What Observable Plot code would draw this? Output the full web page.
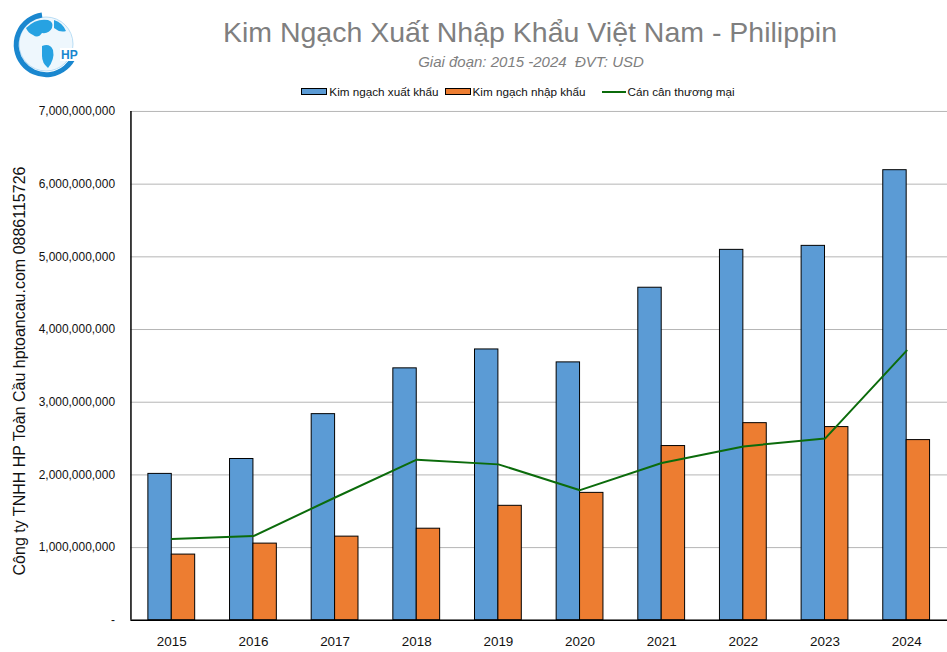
<!DOCTYPE html>
<html>
<head>
<meta charset="utf-8">
<script src="https://cdn.jsdelivr.net/npm/d3@7"></script>
<script src="https://cdn.jsdelivr.net/npm/@observablehq/plot@0.6"></script>
<style>
  html, body { margin: 0; padding: 0; background: #fff; }
  body { width: 947px; height: 652px; overflow: hidden; position: relative; font-family: "Liberation Sans", Arial, sans-serif; }
  #title { position: absolute; left: 0; width: 1060px; top: 16px; text-align: center; font-size: 28.5px; color: #7f7f7f; white-space: nowrap; }
  #subtitle { position: absolute; left: 0; width: 1062px; top: 53px; text-align: center; font-size: 15px; font-style: italic; color: #7f7f7f; white-space: nowrap; }
  #legend { position: absolute; left: 0; width: 1042px; top: 85px; display: flex; justify-content: center; align-items: center; font-size: 11.7px; color: #111; white-space: nowrap; }
  .sw { display: inline-block; width: 24px; height: 5px; border: 1px solid #000; margin-right: 2px; }
  .ln { display: inline-block; width: 24px; height: 2px; margin-right: 2px; margin-left: 10px; }
  .item { display: inline-flex; align-items: center; margin-right: 6px; }
  #ytitle { position: absolute; left: 20px; top: 371px; transform: translate(-50%, -50%) rotate(-90deg); font-size: 16px; color: #111; white-space: nowrap; }
  #chart { position: absolute; left: 0; top: 100px; }
  #logo { position: absolute; left: 6px; top: 6px; }
</style>
</head>
<body>
<svg id="logo" width="78" height="76" viewBox="0 0 78 76">
  <circle cx="40" cy="38" r="27" fill="#eef7fd" stroke="#a9d6f2" stroke-width="0.8"/>
  <path d="M20 22 q10 -10 22 -8 q6 2 4 8 q-3 6 -10 5 q-4 6 -9 2 q-5 -2 -7 -7z" fill="#27a2e2"/>
  <path d="M48 14 q9 3 12 11 q-6 2 -12 -3z" fill="#27a2e2"/>
  <path d="M36 40 q8 -3 11 4 q2 9 -5 18 q-6 -5 -6 -12z" fill="#27a2e2"/>
  <path d="M36 9 A30 30 0 1 0 68 50" fill="none" stroke="#1a87cf" stroke-width="5"/>
  <rect x="54" y="42" width="22" height="13" fill="#fff"/>
  <text x="55" y="53" font-size="12" font-weight="bold" fill="#1a87cf" font-family="Liberation Sans, Arial">HP</text>
</svg>
<div id="title">Kim Ngạch Xuất Nhập Khẩu Việt Nam - Philippin</div>
<div id="subtitle">Giai đoạn: 2015 -2024&nbsp;&nbsp;ĐVT: USD</div>
<div id="legend">
  <span class="item"><span class="sw" style="background:#5B9BD5"></span>Kim ngạch xuất khẩu</span>
  <span class="item"><span class="sw" style="background:#ED7D31"></span>Kim ngạch nhập khẩu</span>
  <span class="item"><span class="ln" style="background:#0b6b0b"></span>Cán cân thương mại</span>
</div>
<div id="ytitle">Công ty TNHH HP Toàn Cầu hptoancau.com 0886115726</div>
<div id="chart"></div>
<script>
const years = ["2015", "2016", "2017", "2018", "2019", "2020", "2021", "2022", "2023", "2024"];
const exportValues = [2.014e9, 2.219e9, 2.836e9, 3.466e9, 3.726e9, 3.548e9, 4.575e9, 5.096e9, 5.151e9, 6.192e9];
const importValues = [0.904e9, 1.055e9, 1.151e9, 1.260e9, 1.575e9, 1.753e9, 2.397e9, 2.712e9, 2.658e9, 2.479e9];
const balanceValues = [1.118e9, 1.159e9, 1.689e9, 2.210e9, 2.145e9, 1.790e9, 2.164e9, 2.392e9, 2.500e9, 3.710e9];
const yTicks = [0, 1e9, 2e9, 3e9, 4e9, 5e9, 6e9, 7e9];

const data = years.map((year, i) => ({year, exp: exportValues[i], imp: importValues[i], bal: balanceValues[i]}));
const fmt = d3.format(",");

const chart = Plot.plot({
  width: 951,
  height: 552,
  marginLeft: 131,
  marginRight: 0,
  marginTop: 11,
  marginBottom: 30,
  style: {fontFamily: "Liberation Sans, Arial, sans-serif", background: "transparent", overflow: "visible"},
  x: {type: "band", domain: years, padding: 0, label: null},
  y: {domain: [0, 7e9], label: null},
  marks: [
    Plot.gridY(yTicks, {stroke: "#b4b4b4", strokeOpacity: 1, strokeWidth: 1}),
    Plot.barY(data, {x: "year", y: "exp", fill: "#5B9BD5", stroke: "#000", strokeWidth: 1, insetLeft: 17.5, insetRight: 41}),
    Plot.barY(data, {x: "year", y: "imp", fill: "#ED7D31", stroke: "#000", strokeWidth: 1, insetLeft: 41, insetRight: 17.5}),
    Plot.lineY(data, {x: "year", y: "bal", stroke: "#0b6b0b", strokeWidth: 2}),
    Plot.ruleY([0], {stroke: "#000", strokeWidth: 1.5}),
    Plot.ruleX([years[0]], {y1: 0, y2: 7e9, dx: -41, stroke: "#000", strokeWidth: 1.5}),
    Plot.axisY(yTicks, {tickSize: 0, tickPadding: 16, tickFormat: d => d === 0 ? "-" : fmt(d), fontSize: 12, fill: "#111", label: null}),
    Plot.axisX({tickSize: 0, tickPadding: 16, fontSize: 13.5, fill: "#111", label: null})
  ]
});
document.getElementById("chart").appendChild(chart);
</script>
</body>
</html>
